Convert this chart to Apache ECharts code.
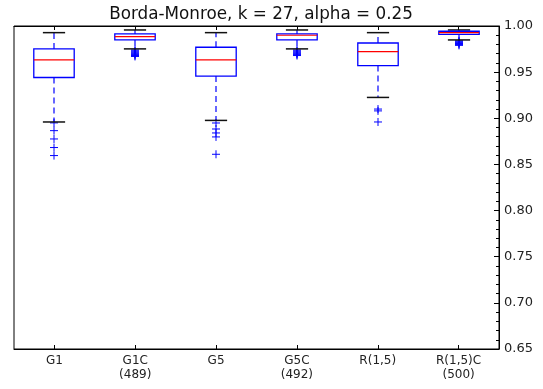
<!DOCTYPE html>
<html lang="en">
<head>
    <meta charset="UTF-8">
    <title>Borda-Monroe boxplot</title>
    <style>
        html, body { margin: 0; padding: 0; background: #fff; }
        #chart { width: 543px; height: 389px; }
    </style>
</head>
<body>
<div id="chart"></div>
<script src="https://cdn.jsdelivr.net/npm/echarts@6/dist/echarts.min.js"></script>
<script>
    // categories and box statistics
    var categories = ['G1', 'G1C\n(489)', 'G5', 'G5C\n(492)', 'R(1,5)', 'R(1,5)C\n(500)'];
    var lowerWhisker = [0.896, 0.9752, 0.8977, 0.9752, 0.9226, 0.9849];
    var q1 = [0.9442, 0.9849, 0.9457, 0.9849, 0.9571, 0.991];
    var median = [0.9633, 0.9884, 0.9633, 0.990, 0.9722, 0.9928];
    var q3 = [0.9752, 0.9914, 0.977, 0.9914, 0.9816, 0.9943];
    var upperWhisker = [0.9928, 0.9957, 0.9928, 0.9957, 0.9928, 0.9957];
    // outliers per box
    var fliers = [
        [0.895, 0.8866, 0.8776, 0.8683, 0.8596],
        [0.974, 0.973, 0.972, 0.971, 0.970, 0.969, 0.968, 0.967],
        [0.8949, 0.8884, 0.8841, 0.8798, 0.861],
        [0.974, 0.973, 0.972, 0.971, 0.970, 0.969, 0.968],
        [0.910, 0.908, 0.896],
        [0.984, 0.983, 0.982, 0.981, 0.980, 0.979]
    ];
    var yTicks = { min: 0.65, max: 1.00, interval: 0.05 };

    var boxData = categories.map(function (c, i) {
        return [i, lowerWhisker[i], q1[i], median[i], q3[i], upperWhisker[i]];
    });
    var flierData = [];
    fliers.forEach(function (list, i) {
        list.forEach(function (v) { flierData.push([i, v]); });
    });

    var blue = '#0000ff';

    function renderBox(params, api) {
        var x = api.value(0);
        var low = api.coord([x, api.value(1)]);
        var p1 = api.coord([x, api.value(2)]);
        var pm = api.coord([x, api.value(3)]);
        var p3 = api.coord([x, api.value(4)]);
        var high = api.coord([x, api.value(5)]);
        var half = api.size([1, 0])[0] * 0.25;
        var capHalf = half * 0.55;
        var cx = Math.round(p1[0]);
        function line(x1, y1, x2, y2, style) {
            return { type: 'line', shape: { x1: x1, y1: y1, x2: x2, y2: y2 }, style: style };
        }
        var dashed = { stroke: blue, lineWidth: 1.2, lineDash: [6, 4] };
        var black = { stroke: '#111', lineWidth: 1.5 };
        return {
            type: 'group',
            children: [
                line(cx, p1[1], cx, low[1], dashed),
                line(cx, p3[1], cx, high[1], dashed),
                line(cx - capHalf, low[1], cx + capHalf, low[1], black),
                line(cx - capHalf, high[1], cx + capHalf, high[1], black),
                {
                    type: 'rect',
                    shape: { x: cx - half, y: p3[1], width: half * 2, height: p1[1] - p3[1] },
                    style: { fill: 'none', stroke: blue, lineWidth: 1.3 }
                },
                line(cx - half, pm[1], cx + half, pm[1], { stroke: '#ff0000', lineWidth: 1.2 })
            ]
        };
    }

    function renderFlier(params, api) {
        var p = api.coord([api.value(0), api.value(1)]);
        var cx = Math.round(p[0]);
        var s = 4;
        var st = { stroke: blue, lineWidth: 1 };
        return {
            type: 'group',
            children: [
                { type: 'line', shape: { x1: cx - s, y1: p[1], x2: cx + s, y2: p[1] }, style: st },
                { type: 'line', shape: { x1: cx, y1: p[1] - s, x2: cx, y2: p[1] + s }, style: st }
            ]
        };
    }

    var font = 'DejaVu Sans';
    var chart = echarts.init(document.getElementById('chart'));
    var option = {
        animation: false,
        title: {
            text: 'Borda-Monroe, k = 27, alpha = 0.25',
            left: 256, top: 1, textAlign: 'center',
            textStyle: { fontFamily: font, fontSize: 16.8, fontWeight: 'normal', color: '#111' }
        },
        grid: {
            left: 14, right: 44, top: 26, bottom: 40,
            show: true, borderColor: '#000', borderWidth: 1, backgroundColor: '#fff'
        },
        xAxis: [{
            type: 'category',
            data: categories,
            position: 'bottom',
            boundaryGap: true,
            axisLine: { show: true, lineStyle: { color: '#000' } },
            axisTick: { show: true, inside: true, alignWithLabel: true, length: 4, lineStyle: { color: '#000' } },
            axisLabel: { fontFamily: font, fontSize: 12, color: '#222', margin: 5, lineHeight: 14 },
            splitLine: { show: false }
        }, {
            type: 'category',
            data: categories,
            position: 'top',
            boundaryGap: true,
            axisLine: { show: true, lineStyle: { color: '#000' } },
            axisTick: { show: true, inside: true, alignWithLabel: true, length: 4, lineStyle: { color: '#000' } },
            axisLabel: { show: false },
            splitLine: { show: false }
        }],
        yAxis: {
            type: 'value',
            position: 'right',
            min: yTicks.min, max: yTicks.max, interval: yTicks.interval,
            axisLine: { show: true, lineStyle: { color: '#000' } },
            axisTick: { show: true, inside: true, length: 5, lineStyle: { color: '#000' } },
            minorTick: { show: true, splitNumber: 5, length: 3, lineStyle: { color: '#000' } },
            axisLabel: {
                fontFamily: font, fontSize: 13, color: '#222', margin: 5,
                formatter: function (v) { return v.toFixed(2); }
            },
            splitLine: { show: false }
        },
        series: [{
            type: 'custom',
            renderItem: renderBox,
            data: boxData,
            encode: { x: 0, y: [1, 2, 3, 4, 5] },
            z: 3
        }, {
            type: 'custom',
            renderItem: renderFlier,
            data: flierData,
            encode: { x: 0, y: 1 },
            z: 2
        }]
    };
    chart.setOption(option);
</script>
</body>
</html>
